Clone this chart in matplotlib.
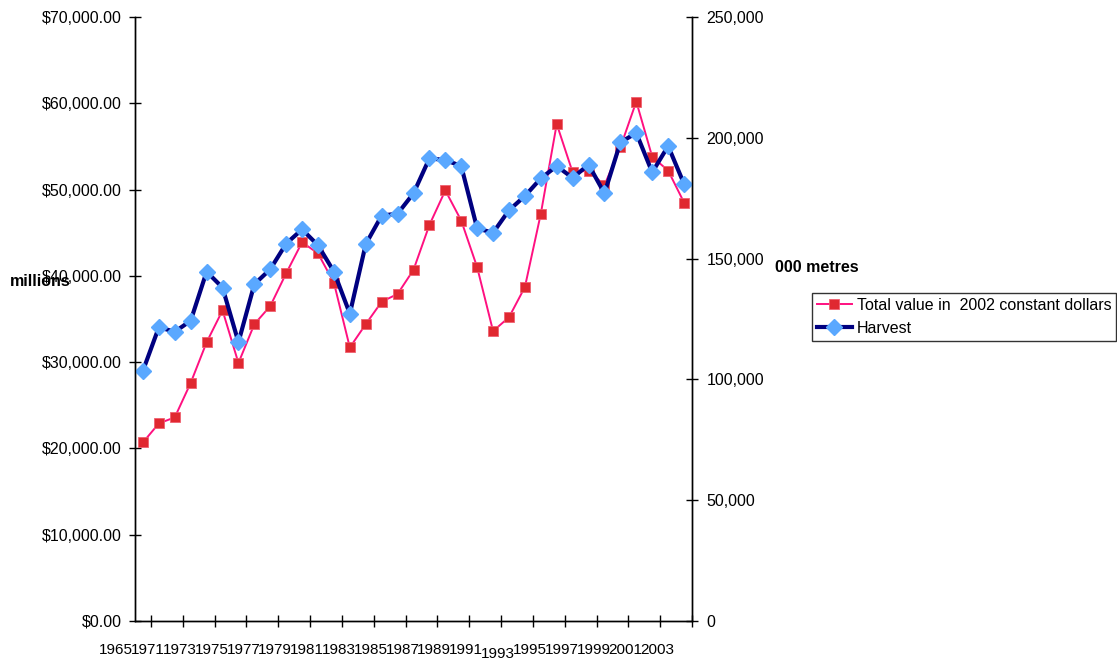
import matplotlib
matplotlib.use("Agg")
import matplotlib.pyplot as plt
import matplotlib.transforms as mtransforms
import numpy as np

plt.rcParams['font.family'] = ['Liberation Sans', 'DejaVu Sans']

# categories: 1965, then 1970..2003
years = ['1965'] + [str(y) for y in range(1970, 2004)]

# total value in 2002 constant dollars (millions)
value = [20700, 22900, 23600, 27600, 32300, 36000, 29900, 34400, 36500, 40300,
         43900, 42600, 39200, 31700, 34400, 37000, 37900, 40700, 45900, 49900,
         46400, 41000, 33600, 35200, 38700, 47200, 57600, 52000, 52200, 50500,
         54900, 60200, 53800, 52200, 48500]

# harvest (000 metres)
harvest = [103600, 121600, 119700, 124300, 144600, 138000, 115400, 139400, 145600, 156200,
           162100, 155500, 144600, 127200, 156000, 167800, 168600, 177000, 191500, 190800,
           188300, 162500, 160700, 170000, 175900, 183200, 188300, 183400, 188900, 177000,
           198100, 202000, 185700, 196600, 180900]

x = np.arange(len(years))
fs = 11.5

fig = plt.figure(figsize=(11.17, 6.6), dpi=100)
ax = fig.add_axes([135/1117, 1-621/660, (692-135)/1117, (621-17)/660])
ax2 = ax.twinx()

ax.plot(x, value, color='#FF1080', lw=1.4, marker='s', ms=7,
        mfc='#E02830', mec='#F06070', mew=0.6, label='Total value in  2002 constant dollars')
ax2.plot(x, harvest, color='#000080', lw=3, marker='D', ms=8,
         mfc='#5AA8FF', mec='#5AA8FF', label='Harvest')

ax.set_xlim(-0.5, len(years)-0.5)
ax.set_ylim(0, 70000)
ax2.set_ylim(0, 250000)

ax.set_yticks(np.arange(0, 70001, 10000))
ax.set_yticklabels(['${:,.2f}'.format(v) for v in np.arange(0, 70001, 10000)])
ax2.set_yticks(np.arange(0, 250001, 50000))
ax2.set_yticklabels(['{:,}'.format(v) for v in np.arange(0, 250001, 50000)])

# tick marks at category boundaries, labels every other category
ax.set_xticks(np.arange(-0.5, len(years)), minor=True)
ax.set_xticks(x[::2] - 0.5)
ax.set_xticklabels(years[::2], ha='right')
ax.tick_params(axis='x', which='major', length=0, pad=16, labelsize=11)
ax.tick_params(axis='x', which='minor', direction='inout', length=9, width=1)
ax.tick_params(axis='y', direction='inout', length=9, width=1, labelsize=fs, pad=5)
ax2.tick_params(axis='y', direction='inout', length=9, width=1, labelsize=fs, pad=6)

shift = mtransforms.ScaledTranslation(-2/100, 0, fig.dpi_scale_trans)
for lbl in ax.get_xticklabels():
    lbl.set_transform(lbl.get_transform() + shift)
    if lbl.get_text() == '1993':
        lbl.set_transform(lbl.get_transform() + mtransforms.ScaledTranslation(0, -4/100, fig.dpi_scale_trans))

for a in (ax, ax2):
    a.spines['top'].set_visible(False)
    for s in a.spines.values():
        s.set_linewidth(1)

fig.text(10/1117, 1-281/660, 'millions', fontsize=fs, fontweight='bold', va='center')
fig.text(775/1117, 1-268/660, '000 metres', fontsize=fs, fontweight='bold', va='center')

h1, l1 = ax.get_legend_handles_labels()
h2, l2 = ax2.get_legend_handles_labels()
leg = fig.legend(h1 + h2, l1 + l2, loc='upper left', bbox_to_anchor=(812/1117, 1-293/660),
                 fontsize=fs, frameon=True, fancybox=False, borderaxespad=0,
                 handlelength=2.2, handletextpad=0.3, borderpad=0.3, labelspacing=0.5)
leg.get_frame().set_edgecolor('black')
leg.get_frame().set_linewidth(1)

fig.savefig('out.png', dpi=100)
